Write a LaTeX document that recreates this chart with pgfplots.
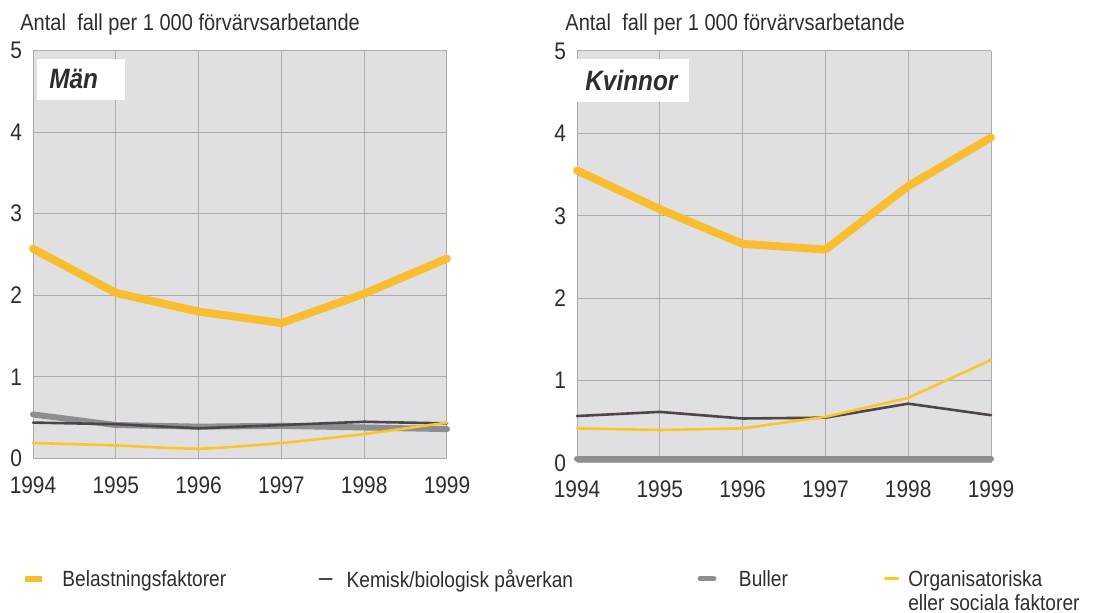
\documentclass[border=0pt]{standalone}
\usepackage{pgfplots}
\pgfplotsset{compat=1.18}
\usepackage{fontspec}
\setmainfont[FakeStretch=0.87]{Liberation Sans}
\definecolor{belast}{RGB}{249,190,48}
\definecolor{orgc}{RGB}{250,198,40}
\definecolor{kem}{RGB}{78,68,75}
\definecolor{bul}{RGB}{142,142,142}
\definecolor{bgc}{RGB}{224,224,226}
\definecolor{gridc}{RGB}{172,172,172}
\definecolor{txt}{RGB}{45,45,45}
\begin{document}
\begin{tikzpicture}
\useasboundingbox (0,0) rectangle (549pt,306.5pt);
\pgfplotsset{panel/.style={
  scale only axis, width=207pt, anchor=south west,
  xmin=1994, xmax=1999, ymin=0, ymax=5,
  xtick={1994,1995,1996,1997,1998,1999}, ytick={0,1,2,3,4,5},
  grid=major, major grid style={draw=gridc, line width=0.5pt},
  axis line style={draw=none}, major tick length=0pt,
  axis background/.style={fill=bgc},
  tick label style={font=\fontsize{12}{14}\selectfont, text=txt},
  /pgf/number format/assume math mode=true,
  x tick label style={/pgf/number format/1000 sep=, yshift=-5.5pt},
  y tick label style={xshift=-2pt},
  clip=false,
  every axis plot/.append style={line join=round, line cap=round},
}}
% ---------------- Män ----------------
\begin{axis}[panel, at={(16.5pt,77.25pt)}, height=204pt,
  legend columns=4,
  legend style={at={(0,0)}, anchor=north west, xshift=-4pt, yshift=-55.5pt,
    draw=none, fill=none, inner sep=0pt, column sep=0pt, row sep=0pt,
    nodes={inner sep=0pt, text depth=0pt, text=txt},
    font=\fontsize{11}{13}\selectfont},
  ]
\addplot[bul, line width=3pt, forget plot] coordinates {(1994,0.54) (1995,0.41) (1996,0.39) (1997,0.40) (1998,0.38) (1999,0.36)};
\addplot[kem, line width=1.3pt, forget plot] coordinates {(1994,0.44) (1995,0.42) (1996,0.37) (1997,0.41) (1998,0.45) (1999,0.43)};
\addplot[orgc, line width=1.3pt, smooth, tension=0.4, forget plot] coordinates {(1994,0.19) (1995,0.16) (1996,0.12) (1997,0.19) (1998,0.30) (1999,0.44)};
\addplot[belast, line width=4pt, forget plot] coordinates {(1994,2.57) (1995,2.03) (1996,1.80) (1997,1.66) (1998,2.02) (1999,2.45)};
\addlegendimage{legend image code/.code={\path[draw=none,fill=none] (0pt,-3pt) rectangle (18.5pt,3pt); \fill[belast, draw=none] (0pt,-1.5pt) rectangle (8.5pt,1.5pt);}}
\addlegendentry{\makebox[128pt][l]{Belastningsfaktorer}}
\addlegendimage{legend image code/.code={\path[draw=none,fill=none] (0pt,-3pt) rectangle (13.5pt,3pt); \draw[kem, line width=1.2pt] (0pt,0pt) -- (6pt,0pt);}}
\addlegendentry{\makebox[175.5pt][l]{Kemisk/biologisk påverkan}}
\addlegendimage{legend image code/.code={\path[draw=none,fill=none] (0pt,-3pt) rectangle (19.5pt,3pt); \draw[bul, line width=2.4pt] (0pt,0pt) -- (7pt,0pt);}}
\addlegendentry{\makebox[72.5pt][l]{Buller}}
\addlegendimage{legend image code/.code={\path[draw=none,fill=none] (0pt,-3pt) rectangle (11.5pt,3pt); \draw[orgc, line width=1.3pt] (0pt,0pt) -- (6.5pt,0pt);}}
\addlegendentry{\rlap{\raisebox{-12pt}[0pt][0pt]{eller sociala faktorer}}Organisatoriska}
\node[anchor=base west, inner sep=0pt, text=txt, font=\fontsize{11.5}{13}\selectfont] at (rel axis cs:0,1) [xshift=-6.5pt, yshift=10pt] {Antal\hspace{0.25em} fall per 1 000 förvärvsarbetande};
\node[anchor=north west, fill=white, inner xsep=6pt, inner ysep=0pt, minimum height=20.5pt, text width=32pt, align=left, text=txt, font=\fontsize{14}{16}\selectfont\bfseries\itshape] at (rel axis cs:0,1) [xshift=2pt, yshift=-4pt] {Män};
\end{axis}
% ---------------- Kvinnor ----------------
\begin{axis}[panel, at={(288.5pt,75pt)}, height=206pt]
\addplot[bul, line width=3pt] coordinates {(1994,0.05) (1995,0.05) (1996,0.05) (1997,0.05) (1998,0.05) (1999,0.05)};
\addplot[kem, line width=1.3pt] coordinates {(1994,0.57) (1995,0.62) (1996,0.54) (1997,0.55) (1998,0.72) (1999,0.58)};
\addplot[orgc, line width=1.3pt] coordinates {(1994,0.42) (1995,0.40) (1996,0.42) (1997,0.56) (1998,0.79) (1999,1.25)};
\addplot[belast, line width=4pt] coordinates {(1994,3.55) (1995,3.08) (1996,2.66) (1997,2.59) (1998,3.36) (1999,3.95)};
\node[anchor=base west, inner sep=0pt, text=txt, font=\fontsize{11.5}{13}\selectfont] at (rel axis cs:0,1) [xshift=-6pt, yshift=10pt] {Antal\hspace{0.25em} fall per 1 000 förvärvsarbetande};
\node[anchor=north west, fill=white, inner xsep=4pt, inner ysep=0pt, minimum height=21.5pt, text width=48pt, align=left, text=txt, font=\fontsize{14}{16}\selectfont\bfseries\itshape] at (rel axis cs:0,1) [xshift=0pt, yshift=-4pt] {Kvinnor};
\end{axis}
\end{tikzpicture}
\end{document}
